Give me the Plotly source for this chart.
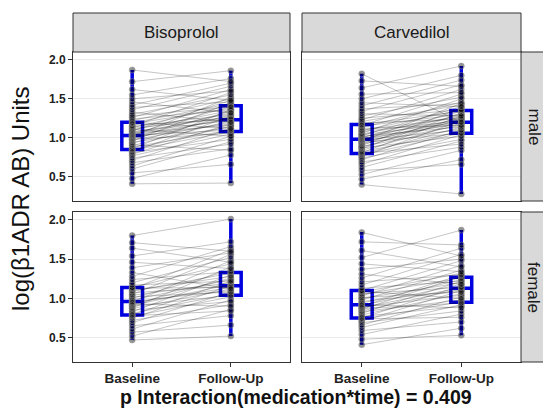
import plotly.graph_objects as go

# ---------------- data ----------------
times = ["Baseline", "Follow-Up"]
medications = ["Bisoprolol", "Carvedilol"]
sexes = ["male", "female"]

male_bis_base = [0.41, 0.48, 0.55, 0.60, 0.64, 0.68, 0.71, 0.74, 0.77, 0.79, 0.81, 0.82, 0.84, 0.85, 0.86,
                 0.88, 0.90, 0.91, 0.93, 0.94, 0.96, 0.97, 0.98, 0.99, 1.00, 1.01, 1.02, 1.03, 1.03, 1.04,
                 1.05, 1.06, 1.07, 1.08, 1.09, 1.10, 1.11, 1.12, 1.13, 1.14, 1.15, 1.16, 1.18, 1.19, 1.20,
                 1.22, 1.24, 1.26, 1.28, 1.30, 1.33, 1.36, 1.39, 1.42, 1.46, 1.50, 1.55, 1.62, 1.72, 1.87]
male_bis_follow = [0.42, 0.78, 0.66, 0.95, 1.02, 0.86, 1.12, 0.92, 1.05, 1.18, 0.98, 1.28, 1.08, 1.15, 1.36,
                   1.10, 1.22, 0.84, 1.30, 1.14, 1.45, 1.20, 1.06, 1.26, 1.34, 1.18, 1.52, 1.24, 1.10, 1.32,
                   1.40, 1.16, 1.28, 1.22, 1.48, 1.35, 1.02, 1.26, 1.42, 1.30, 1.58, 1.24, 1.38, 1.44, 1.12,
                   1.50, 1.36, 1.62, 1.40, 1.55, 1.20, 1.66, 1.46, 1.70, 1.32, 1.60, 1.76, 1.48, 1.86, 1.72]

male_car_base = [0.40, 0.47, 0.53, 0.58, 0.62, 0.66, 0.69, 0.72, 0.74, 0.76, 0.78, 0.79, 0.80, 0.81, 0.82,
                 0.84, 0.86, 0.87, 0.88, 0.89, 0.90, 0.92, 0.93, 0.94, 0.95, 0.96, 0.97, 0.97, 0.98, 0.99,
                 1.00, 1.01, 1.02, 1.03, 1.04, 1.05, 1.06, 1.08, 1.09, 1.10, 1.12, 1.13, 1.15, 1.16, 1.17,
                 1.19, 1.21, 1.23, 1.25, 1.28, 1.31, 1.34, 1.37, 1.41, 1.45, 1.50, 1.56, 1.64, 1.73, 1.82]
male_car_follow = [0.28, 0.72, 0.84, 0.66, 0.96, 1.04, 0.88, 1.10, 0.98, 1.22, 1.06, 1.14, 0.92, 1.28, 1.08,
                   1.18, 1.32, 1.02, 1.24, 1.12, 1.38, 1.16, 1.26, 1.06, 1.20, 1.44, 1.22, 1.10, 1.30, 1.18,
                   1.34, 1.24, 1.14, 1.40, 1.20, 1.28, 1.50, 1.22, 1.36, 1.26, 1.16, 1.46, 1.30, 1.56, 1.34,
                   1.24, 1.42, 1.62, 1.36, 1.52, 1.28, 1.68, 1.44, 1.74, 1.40, 1.80, 1.58, 1.92, 1.66, 1.20]

female_bis_base = [0.47, 0.52, 0.57, 0.61, 0.65, 0.69, 0.72, 0.75, 0.77, 0.78, 0.79,
                   0.81, 0.83, 0.85, 0.87, 0.88, 0.90, 0.91, 0.92, 0.93, 0.94, 0.95, 0.96,
                   0.98, 1.00, 1.02, 1.04, 1.05, 1.07, 1.09, 1.10, 1.12, 1.13, 1.14,
                   1.17, 1.20, 1.24, 1.28, 1.33, 1.39, 1.46, 1.54, 1.64, 1.71, 1.80]
female_bis_follow = [0.52, 0.86, 0.66, 0.98, 0.78, 1.08, 0.92, 1.16, 1.02, 0.84, 1.22,
                     1.06, 1.30, 0.96, 1.12, 1.40, 1.04, 1.18, 1.26, 0.90, 1.14, 1.48, 1.10,
                     1.24, 1.36, 1.08, 1.20, 1.56, 1.16, 1.32, 1.28, 1.62, 1.14, 1.44,
                     1.22, 1.52, 1.34, 1.66, 1.12, 1.58, 1.38, 1.72, 1.46, 1.60, 2.01]

female_car_base = [0.41, 0.48, 0.54, 0.59, 0.63, 0.66, 0.69, 0.71, 0.73, 0.74, 0.75,
                   0.77, 0.79, 0.81, 0.83, 0.84, 0.86, 0.87, 0.88, 0.89, 0.90, 0.91, 0.92,
                   0.94, 0.96, 0.98, 1.00, 1.01, 1.03, 1.05, 1.06, 1.08, 1.09, 1.10,
                   1.13, 1.17, 1.21, 1.26, 1.31, 1.37, 1.44, 1.52, 1.61, 1.72, 1.84]
female_car_follow = [0.62, 0.53, 0.80, 0.70, 0.92, 1.02, 0.84, 1.10, 0.96, 0.76, 1.16,
                     0.90, 1.06, 1.22, 0.98, 1.12, 1.28, 0.94, 1.14, 1.04, 1.30, 1.18, 0.88,
                     1.24, 1.10, 1.36, 1.20, 1.08, 1.42, 1.26, 1.14, 1.32, 1.00, 1.48,
                     1.22, 1.56, 1.30, 1.64, 1.18, 1.50, 1.34, 1.87, 1.40, 1.68, 1.54]

# box statistics: [Baseline, Follow-Up]
box_q1 = {("male", "Bisoprolol"): [0.85, 1.08], ("male", "Carvedilol"): [0.80, 1.06],
          ("female", "Bisoprolol"): [0.79, 1.04], ("female", "Carvedilol"): [0.75, 0.95]}
box_median = {("male", "Bisoprolol"): [1.03, 1.23], ("male", "Carvedilol"): [0.98, 1.20],
              ("female", "Bisoprolol"): [0.96, 1.16], ("female", "Carvedilol"): [0.92, 1.13]}
box_q3 = {("male", "Bisoprolol"): [1.20, 1.41], ("male", "Carvedilol"): [1.17, 1.35],
          ("female", "Bisoprolol"): [1.14, 1.33], ("female", "Carvedilol"): [1.10, 1.27]}
box_low = {("male", "Bisoprolol"): [0.41, 0.42], ("male", "Carvedilol"): [0.40, 0.28],
           ("female", "Bisoprolol"): [0.47, 0.52], ("female", "Carvedilol"): [0.41, 0.53]}
box_high = {("male", "Bisoprolol"): [1.87, 1.86], ("male", "Carvedilol"): [1.82, 1.92],
            ("female", "Bisoprolol"): [1.80, 2.01], ("female", "Carvedilol"): [1.845, 1.87]}

subjects = {("male", "Bisoprolol"): (male_bis_base, male_bis_follow),
            ("male", "Carvedilol"): (male_car_base, male_car_follow),
            ("female", "Bisoprolol"): (female_bis_base, female_bis_follow),
            ("female", "Carvedilol"): (female_car_base, female_car_follow)}

y_ticks = [0.5, 1.0, 1.5, 2.0]
y_ticktext = ["0.5", "1.0", "1.5", "2.0"]
x_title = "p Interaction(medication*time) = 0.409"
y_title = "log(\u03b21ADR AB) Units"

# ---------------- layout geometry ----------------
W, H = 551, 413
OFF = 8  # page body margin compensation
col_px = [(73, 290), (302, 521)]
row_px = [(52, 201), (212, 362)]
strip_top_px = 13
strip_right_px = 521

def fx(p):
    return (p - OFF) / W

def fy(p):
    return 1 - (p - OFF) / H

FONT = "Liberation Sans, Arial, sans-serif"
BLUE = "#0000e0"
BORDER = "#333333"

fig = go.Figure()
layout_axes = {}

for r, sex in enumerate(sexes):
    for c, med in enumerate(medications):
        k = r * 2 + c + 1
        xa = "x" if k == 1 else f"x{k}"
        ya = "y" if k == 1 else f"y{k}"
        base, follow = subjects[(sex, med)]
        # boxes (drawn first, points on top)
        fig.add_trace(go.Box(x=[1, 2], q1=box_q1[(sex, med)], median=box_median[(sex, med)],
                             q3=box_q3[(sex, med)], lowerfence=box_low[(sex, med)],
                             upperfence=box_high[(sex, med)], width=0.21, whiskerwidth=0,
                             boxpoints=False, fillcolor="rgba(0,0,0,0)",
                             line=dict(color=BLUE, width=3.5), xaxis=xa, yaxis=ya,
                             showlegend=False, hoverinfo="skip"))
        # subject lines
        for b, f in zip(base, follow):
            fig.add_trace(go.Scatter(x=[1, 2], y=[b, f], mode="lines", xaxis=xa, yaxis=ya,
                                     line=dict(color="rgba(0,0,0,0.23)", width=1),
                                     hoverinfo="skip", showlegend=False))
        # points
        fig.add_trace(go.Scatter(x=[1] * len(base) + [2] * len(follow), y=list(base) + list(follow),
                                 mode="markers", xaxis=xa, yaxis=ya,
                                 marker=dict(size=6, color="rgba(0,0,0,0.42)",
                                             line=dict(color="rgba(150,150,150,0.55)", width=1)),
                                 hoverinfo="skip", showlegend=False))

        xkey = "xaxis" if k == 1 else f"xaxis{k}"
        ykey = "yaxis" if k == 1 else f"yaxis{k}"
        x0, x1 = col_px[c]
        y0, y1 = row_px[r]
        layout_axes[xkey] = dict(domain=[fx(x0), fx(x1)], range=[0.4, 2.6], anchor=ya,
                                 tickvals=[1, 2], ticktext=times, showgrid=False, zeroline=False,
                                 showline=True, mirror=True, linecolor=BORDER, linewidth=1,
                                 ticks="outside" if r == 1 else "", ticklen=4, tickcolor=BORDER,
                                 showticklabels=(r == 1),
                                 tickfont=dict(family=FONT, size=13.5, color="#222", weight="bold"))
        layout_axes[ykey] = dict(domain=[fy(y1), fy(y0)], range=[0.19, 2.1], anchor=xa,
                                 tickvals=y_ticks, ticktext=y_ticktext, showgrid=True,
                                 gridcolor="#ebebeb", gridwidth=1, zeroline=False,
                                 showline=True, mirror=True, linecolor=BORDER, linewidth=1,
                                 ticks="outside" if c == 0 else "", ticklen=4, tickcolor=BORDER,
                                 showticklabels=(c == 0),
                                 tickfont=dict(family=FONT, size=12, color="#222", weight="bold"))

shapes = []
annotations = []
for c, med in enumerate(medications):
    x0, x1 = col_px[c]
    shapes.append(dict(type="rect", xref="paper", yref="paper", x0=fx(x0), x1=fx(x1),
                       y0=fy(row_px[0][0]), y1=fy(strip_top_px), fillcolor="#d9d9d9",
                       line=dict(color=BORDER, width=1)))
    annotations.append(dict(text=med, xref="paper", yref="paper", x=fx((x0 + x1) / 2),
                            y=fy((strip_top_px + row_px[0][0]) / 2), showarrow=False,
                            xanchor="center", yanchor="middle",
                            font=dict(family=FONT, size=17, color="#1a1a1a")))
for r, sex in enumerate(sexes):
    y0, y1 = row_px[r]
    shapes.append(dict(type="rect", xref="paper", yref="paper", x0=fx(strip_right_px), x1=fx(560),
                       y0=fy(y1), y1=fy(y0), fillcolor="#d9d9d9",
                       line=dict(color=BORDER, width=1)))
    annotations.append(dict(text=sex, xref="paper", yref="paper", x=fx(534),
                            y=fy((y0 + y1) / 2), showarrow=False, textangle=90,
                            xanchor="center", yanchor="middle",
                            font=dict(family=FONT, size=17, color="#1a1a1a")))

annotations.append(dict(text=y_title, xref="paper", yref="paper", x=fx(21), y=fy(199),
                        showarrow=False, textangle=-90, xanchor="center", yanchor="middle",
                        font=dict(family=FONT, size=24, color="#111")))
annotations.append(dict(text=x_title, xref="paper", yref="paper", x=fx(296), y=fy(397),
                        showarrow=False, xanchor="center", yanchor="middle",
                        font=dict(family=FONT, size=19.5, color="#111", weight="bold")))

fig.update_layout(width=W, height=H, margin=dict(l=0, r=0, t=0, b=0),
                  paper_bgcolor="white", plot_bgcolor="white",
                  shapes=shapes, annotations=annotations, showlegend=False,
                  **layout_axes)

fig.write_html("out.html")
